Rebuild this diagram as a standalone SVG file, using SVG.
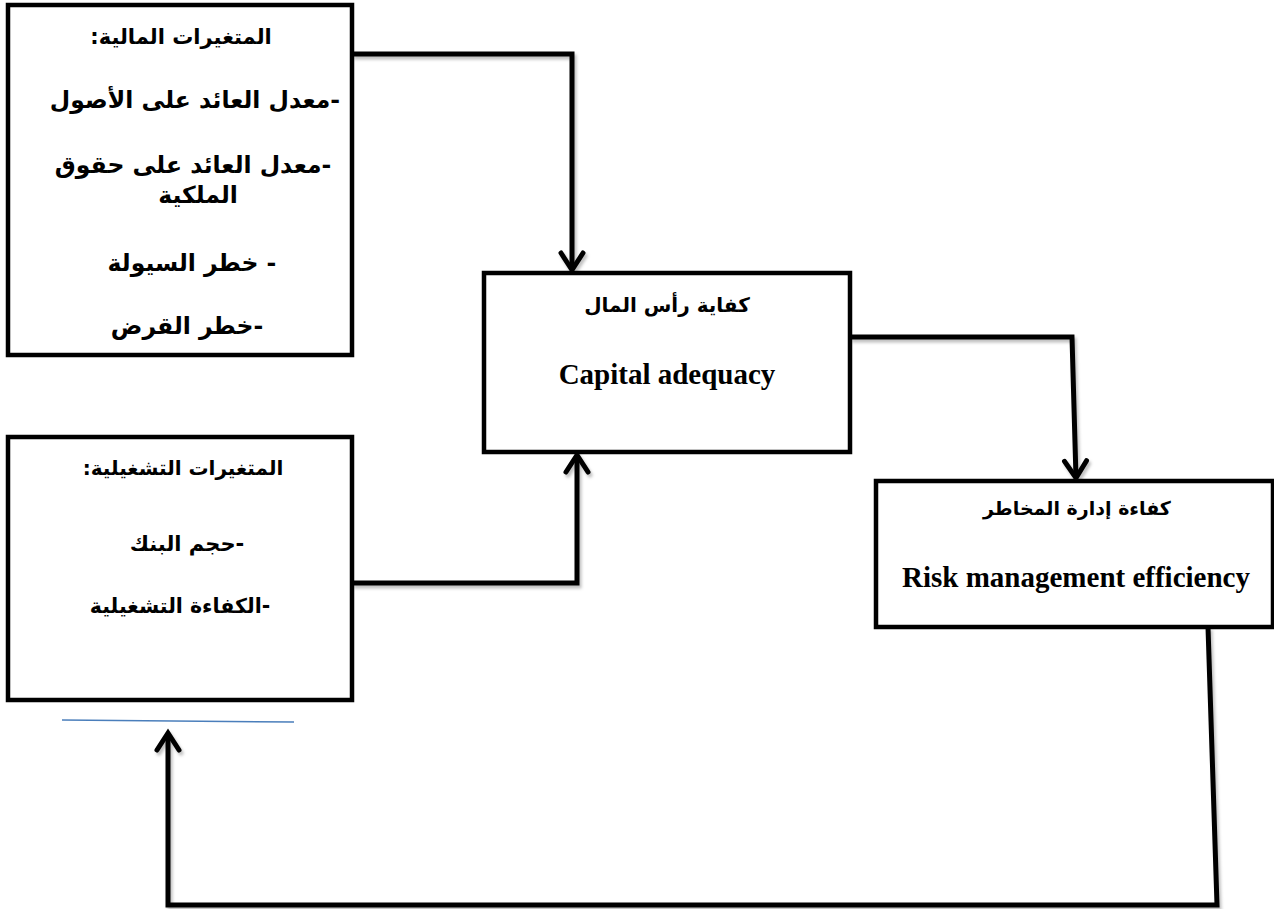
<svg xmlns="http://www.w3.org/2000/svg" width="1274" height="909" viewBox="0 0 1274 909">
<style>
.box{fill:#fff;stroke:#000;stroke-width:4.5}
.ar{font-family:"DejaVu Sans",sans-serif;font-weight:bold;font-size:20px;fill:#000;text-anchor:middle;direction:rtl;unicode-bidi:embed}
.big{font-size:23.5px}
.mid{font-size:21px}
.en{font-family:"Liberation Serif",serif;font-weight:bold;font-size:29px;fill:#000;text-anchor:middle}
.con{fill:none;stroke:#000;stroke-width:5;stroke-linejoin:miter}
</style>
<defs>
<filter id="sh" x="-5%" y="-5%" width="110%" height="110%">
<feDropShadow dx="2" dy="3" stdDeviation="1.5" flood-color="#000" flood-opacity="0.25"/>
</filter>
<marker id="chev" markerUnits="userSpaceOnUse" viewBox="0 0 30 30" markerWidth="30" markerHeight="30" refX="22" refY="15" orient="auto">
<path d="M5,4 L22,15 L5,26" fill="none" stroke="#000" stroke-width="5" stroke-linecap="round" stroke-linejoin="miter"/>
</marker>
</defs>
<g id="connectors" filter="url(#sh)">
<path class="con" d="M352,54 H572 V270" marker-end="url(#chev)"/>
<path class="con" d="M850,337 H1072 L1076,478" marker-end="url(#chev)"/>
<path class="con" d="M352,583 H577 V455" marker-end="url(#chev)"/>
<path class="con" d="M1208,627 L1217,905 H168 V733" marker-end="url(#chev)"/>
</g>
<g id="financial">
<rect class="box" x="8" y="5" width="344" height="350"/>
<text class="ar mid" x="181" y="44">المتغيرات المالية:</text>
<text class="ar big" x="195" y="108">-معدل العائد على الأصول</text>
<text class="ar big" x="193" y="173">-معدل العائد على حقوق</text>
<text class="ar big" x="198" y="203">الملكية</text>
<text class="ar big" x="192" y="271">- خطر السيولة</text>
<text class="ar big" x="187" y="334">-خطر القرض</text>
</g>
<g id="capital">
<rect class="box" x="484" y="273" width="366" height="179"/>
<text class="ar" x="667" y="312">كفاية رأس المال</text>
<text class="en" x="667" y="384">Capital adequacy</text>
</g>
<g id="risk">
<rect class="box" x="876" y="481" width="397" height="146"/>
<text class="ar" x="1077" y="515" style="font-size:19px">كفاءة إدارة المخاطر</text>
<text class="en" x="1076" y="587">Risk management efficiency</text>
</g>
<g id="operational">
<rect class="box" x="8" y="437" width="344" height="263"/>
<text class="ar" x="183" y="475">المتغيرات التشغيلية:</text>
<text class="ar mid" x="187" y="551">-حجم البنك</text>
<text class="ar" x="180" y="613" style="font-size:20.5px">-الكفاءة التشغيلية</text>
</g>
<line id="blue-line" x1="62" y1="720" x2="294" y2="722" stroke="#4a7ebb" stroke-width="1.5"/>
</svg>
